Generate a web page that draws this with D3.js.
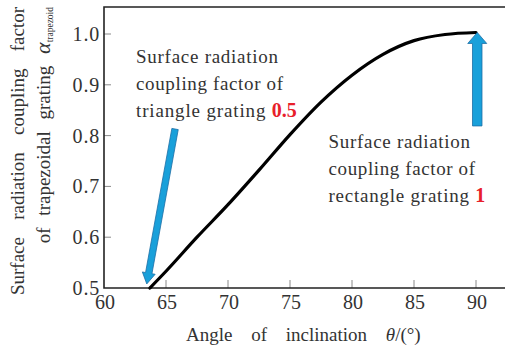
<!DOCTYPE html>
<html>
<head>
<meta charset="utf-8">
<script src="https://cdn.jsdelivr.net/npm/d3@7"></script>
</head>
<body style="margin:0">
<script>
// curve data (angle of inclination vs coupling factor)
var thetaVals = [63.7, 65, 67.5, 70, 72.5, 75, 77.5, 80, 82.5, 85, 87.5, 90];
var alphaVals = [0.500, 0.533, 0.600, 0.664, 0.732, 0.802, 0.866, 0.919, 0.960, 0.987, 0.999, 1.003];

var xTicks = [60, 65, 70, 75, 80, 85, 90];
var yTicks = [0.5, 0.6, 0.7, 0.8, 0.9, 1.0];

// annotation arrows: [tailTheta, tailAlpha, tipTheta, tipAlpha]
var arrowTri = [65.73, 0.813, 63.45, 0.508];
var arrowRect = [90.1, 0.819, 90.1, 1.003];

var noteTri = ["Surface radiation", "coupling factor of", "triangle grating "];
var noteRect = ["Surface radiation", "coupling factor of", "rectangle grating "];

var SERIF = "'Liberation Serif', monospace";

var W = 505, H = 348;
var svg = d3.select("body").append("svg")
            .attr("width", W)
            .attr("height", H);

var x = d3.scaleLinear().domain([60, 90]).range([104, 476]);
var y = d3.scaleLinear().domain([0.5, 1.0]).range([288, 34]);

var frameTop = 7, frameRight = 505;

// ticks (inward, grey)
svg.append("g").selectAll("line")
   .data(xTicks.slice(1))
   .enter().append("line")
   .attr("x1", function(d){ return x(d); })
   .attr("x2", function(d){ return x(d); })
   .attr("y1", y(0.5))
   .attr("y2", y(0.5) - 8)
   .attr("stroke", "#8a8a8a")
   .attr("stroke-width", 1);

svg.append("g").selectAll("line")
   .data(yTicks.slice(1))
   .enter().append("line")
   .attr("x1", x(60))
   .attr("x2", x(60) + 7)
   .attr("y1", function(d){ return y(d); })
   .attr("y2", function(d){ return y(d); })
   .attr("stroke", "#8a8a8a")
   .attr("stroke-width", 1);

// frame (left, bottom, top; right side is cut off)
svg.append("path")
   .attr("d", "M" + frameRight + "," + frameTop + "H" + x(60) + "V" + y(0.5) + "H" + frameRight)
   .attr("fill", "none")
   .attr("stroke", "#222")
   .attr("stroke-width", 1.6);

// tick labels
svg.append("g").selectAll("text")
   .data(xTicks)
   .enter().append("text")
   .attr("x", function(d){ return x(d) + 1; })
   .attr("y", 308.5)
   .attr("text-anchor", "middle")
   .style("font-family", SERIF)
   .attr("font-size", 20)
   .attr("fill", "#333")
   .text(function(d){ return d; });

svg.append("g").selectAll("text")
   .data(yTicks)
   .enter().append("text")
   .attr("x", 100)
   .attr("y", function(d){ return y(d) + 7; })
   .attr("text-anchor", "end")
   .style("font-family", SERIF)
   .attr("font-size", 20)
   .attr("letter-spacing", 0.8)
   .attr("fill", "#333")
   .text(function(d){ return d.toFixed(1); });

// curve
var line = d3.line()
             .x(function(d){ return x(d[0]); })
             .y(function(d){ return y(d[1]); })
             .curve(d3.curveMonotoneX);

svg.append("path")
   .datum(d3.zip(thetaVals, alphaVals))
   .attr("d", line)
   .attr("fill", "none")
   .attr("stroke", "#000")
   .attr("stroke-width", 3.2)
   .attr("stroke-linecap", "round");

// block arrows
function arrowPath(a, w, hw, hl) {
    var x0 = x(a[0]), y0 = y(a[1]), x1 = x(a[2]), y1 = y(a[3]);
    var dx = x1 - x0, dy = y1 - y0, len = Math.sqrt(dx*dx + dy*dy);
    var ux = dx/len, uy = dy/len, nx = -uy, ny = ux;
    var bx = x1 - ux*hl, by = y1 - uy*hl;
    var pts = [
        [x0 + nx*w/2, y0 + ny*w/2],
        [bx + nx*w/2, by + ny*w/2],
        [bx + nx*hw/2, by + ny*hw/2],
        [x1, y1],
        [bx - nx*hw/2, by - ny*hw/2],
        [bx - nx*w/2, by - ny*w/2],
        [x0 - nx*w/2, y0 - ny*w/2]
    ];
    return "M" + pts.join("L") + "Z";
}

svg.append("path")
   .attr("d", arrowPath(arrowTri, 6.5, 13, 11))
   .attr("fill", "#19a0da")
   .attr("stroke", "#1d6ea6")
   .attr("stroke-width", 0.8);

svg.append("path")
   .attr("d", arrowPath(arrowRect, 9.5, 19, 11))
   .attr("fill", "#19a0da")
   .attr("stroke", "#1d6ea6")
   .attr("stroke-width", 0.8);

// annotation texts
function note(lines, redText, x0, y0, widths) {
    lines.forEach(function(s, i) {
        var t = svg.append("text")
                   .attr("x", x0)
                   .attr("y", y0 + i*26.7)
                   .style("font-family", SERIF)
                   .attr("font-size", 19)
                   .attr("fill", "#333");
        if (i < 2) {
            t.text(s).attr("textLength", widths[i]).attr("lengthAdjust", "spacing");
        } else {
            t.append("tspan").text(s)
             .attr("textLength", widths[2]).attr("lengthAdjust", "spacing");
            t.append("tspan")
             .attr("fill", "#e8202a")
             .attr("font-weight", "bold")
             .attr("font-size", 20)
             .text(redText);
        }
    });
}

note(noteTri, "0.5", 136, 63.3, [142, 147, 135]);
note(noteRect, "1", 328.5, 148.3, [141.5, 146.5, 146]);

// y axis title (two lines, rotated)
var yt = svg.append("g").attr("transform", "rotate(-90)");
yt.append("text")
  .attr("x", -7)
  .attr("y", 24)
  .attr("text-anchor", "end")
  .style("font-family", SERIF)
  .style("word-spacing", "12.5px")
  .attr("font-size", 19)
  .attr("fill", "#333")
  .text("Surface radiation coupling factor");

var yl2 = yt.append("text")
            .attr("x", -7)
            .attr("y", 50)
            .attr("text-anchor", "end")
            .style("font-family", SERIF)
            .style("word-spacing", "7px")
            .attr("font-size", 19)
            .attr("fill", "#333");
yl2.append("tspan").text("of trapezoidal grating ");
yl2.append("tspan").attr("font-style", "italic").attr("font-size", 22).text("\u03b1");
yl2.append("tspan").attr("font-size", 9.5).attr("dy", 3).text("trapezoid");

// x axis title
var xl = svg.append("text")
            .attr("x", 186)
            .attr("y", 341)
            .style("font-family", SERIF)
            .style("word-spacing", "14px")
            .attr("font-size", 19)
            .attr("fill", "#333");
xl.append("tspan").text("Angle of inclination ");
xl.append("tspan").attr("font-style", "italic").text("\u03b8");
xl.append("tspan").text("/(\u00b0)");
</script>
</body>
</html>
